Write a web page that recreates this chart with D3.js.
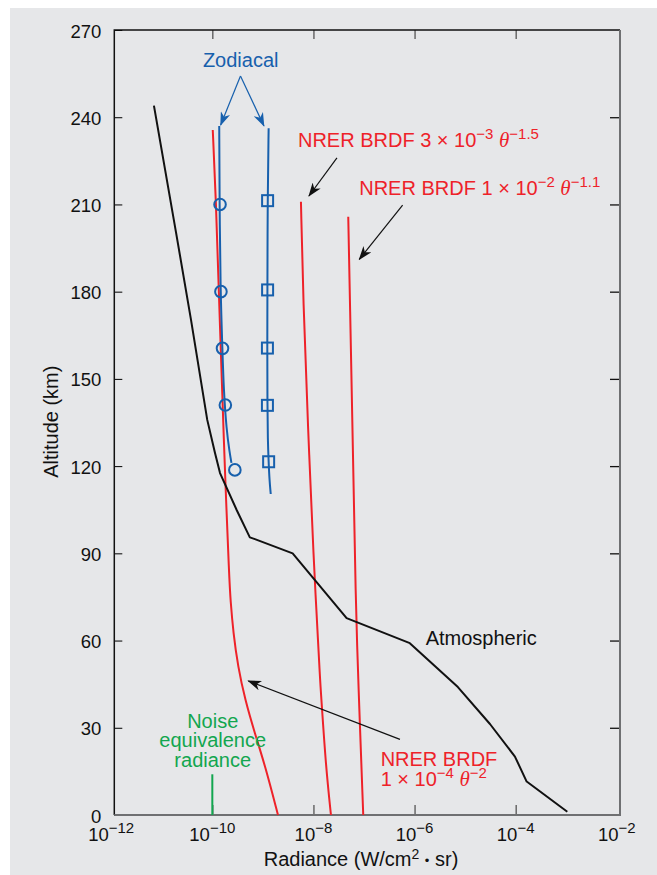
<!DOCTYPE html>
<html>
<head>
<meta charset="utf-8">
<script src="https://cdn.jsdelivr.net/npm/d3@7"></script>
<style>
  body { margin: 0; background: #fff; }
  svg { display: block; font-family: "Liberation Sans", Arial, sans-serif; }
</style>
</head>
<body>
<script>
'use strict';

// ---- data: [altitude km, radiance W/cm2 sr] ----
const yTicks = [0, 30, 60, 90, 120, 150, 180, 210, 240, 270];
const xTickExp = [-12, -10, -8, -6, -4, -2];
const xTickLabels = ['\u221212', '\u221210', '\u22128', '\u22126', '\u22124', '\u22122'];

const atmospheric = [[244.0, 7.0e-12], [200.5, 1.91e-11], [170.3, 3.79e-11], [135.9, 7.94e-11],
  [124.5, 1.13e-10], [117.6, 1.42e-10], [104.9, 3.03e-10], [95.5, 5.52e-10], [94.9, 6.96e-10],
  [90.0, 3.88e-9], [80.8, 1.07e-8], [67.7, 4.53e-8], [59.1, 8.06e-7], [44.0, 7.19e-6],
  [31.3, 3.10e-5], [20.1, 9.67e-5], [11.5, 1.65e-4], [1.1, 1.05e-3]];

const brdf1e4 = [[235.6, 1.02e-10], [211.5, 1.18e-10], [180.6, 1.34e-10], [142.7, 1.59e-10],
  [117.6, 1.78e-10], [80.8, 2.17e-10], [73.9, 2.29e-10], [62.6, 2.60e-10], [51.0, 3.22e-10],
  [39.6, 4.45e-10], [28.2, 6.9e-10], [16.9, 1.11e-9], [0, 1.99e-9]];

const brdf3e3 = [[210.9, 5.66e-9], [177.1, 6.28e-9], [135.9, 7.68e-9], [83.2, 1.04e-8],
  [73.9, 1.12e-8], [46.4, 1.35e-8], [39.6, 1.44e-8], [16.9, 1.76e-8], [0, 2.22e-8]];

const brdf1e2 = [[205.8, 4.88e-8], [177.1, 5.27e-8], [125.5, 6.04e-8], [73.9, 6.84e-8],
  [46.4, 7.69e-8], [0, 9.66e-8]];

const zodCircleLine = [[237.0, 1.37e-10], [210.1, 1.39e-10], [180.2, 1.45e-10], [160.6, 1.58e-10],
  [146.2, 1.68e-10], [132.4, 1.91e-10], [124.9, 2.19e-10], [121.1, 2.39e-10]];
const zodCircles = [[210, 1.42e-10], [180, 1.48e-10], [160.5, 1.59e-10], [141, 1.81e-10], [118.7, 2.79e-10]];

const zodSquareLine = [[236.2, 1.30e-9], [211.5, 1.24e-9], [180.6, 1.23e-9], [160.6, 1.22e-9],
  [141.0, 1.23e-9], [129.0, 1.25e-9], [121.4, 1.30e-9], [115.2, 1.35e-9], [110.4, 1.43e-9]];
const zodSquares = [[211.3, 1.24e-9], [180.6, 1.24e-9], [160.6, 1.23e-9], [140.9, 1.23e-9], [121.5, 1.30e-9]];

const noiseLine = [[0, 1e-10], [14, 1e-10]];

const RED = '#ee2229', BLUE = '#1760ad', GREEN = '#12a64f', INK = '#111', FRAME = '#6f7072';

// annotation anchors: [log10 radiance, altitude]
const arrows = [
  { from: [-9.443, 254.2], to: [-9.835, 237.3], color: BLUE },
  { from: [-9.443, 254.2], to: [-8.979, 237.0], color: BLUE },
  { from: [-7.535, 226.0], to: [-8.089, 212.9], color: INK },
  { from: [-6.236, 209.8], to: [-7.094, 191.1], color: INK },
  { from: [-6.289, 26.0], to: [-9.289, 46.1], color: INK }
];

const svg = d3.select('body').append('svg')
  .attr('width', 657)
  .attr('height', 875);

svg.append('rect')
  .attr('x', 10).attr('y', 8)
  .attr('width', 647).attr('height', 867)
  .attr('fill', '#e6e7e9');

const x = d3.scaleLog().domain([1e-12, 1e-2]).range([111.2, 616.8]);
const y = d3.scaleLinear().domain([0, 270]).range([815, 30]);
const px = e => x(Math.pow(10, e));

// ---- axes ----
let axLeft = svg.append('g')
  .attr('transform', 'translate(114.3,0)')
  .call(d3.axisLeft(y).tickValues(yTicks).tickSizeInner(-8).tickSizeOuter(0).tickPadding(13));
axLeft.attr('font-family', null);
axLeft.selectAll('text').attr('font-size', 18.5).attr('dy', '0.38em').attr('fill', INK);
axLeft.select('.domain').remove();

let axRight = svg.append('g')
  .attr('transform', 'translate(620,0)')
  .call(d3.axisRight(y).tickValues(yTicks.slice(1, -1)).tickSizeInner(-10).tickSizeOuter(0).tickFormat(() => ''));
axRight.select('.domain').remove();
axRight.selectAll('.tick line').attr('stroke', INK).attr('stroke-width', 1.3);

let xVals = xTickExp.map(e => Math.pow(10, e));

let axTop = svg.append('g')
  .attr('transform', 'translate(0,30)')
  .call(d3.axisTop(x).tickValues(xVals.slice(1, -1)).tickSizeInner(-9).tickSizeOuter(0).tickFormat(() => ''));
axTop.select('.domain').remove();
axTop.selectAll('.tick line').attr('stroke', '#555').attr('stroke-width', 1.3);

let axBottom = svg.append('g')
  .attr('transform', 'translate(0,815)')
  .call(d3.axisBottom(x).tickValues(xVals.slice(1, -1)).tickSizeInner(-10).tickSizeOuter(0).tickFormat(() => ''));
axBottom.select('.domain').remove();
axBottom.selectAll('.tick line').attr('stroke', '#555').attr('stroke-width', 1.3);

// plot frame: left and top black, right and bottom grey
svg.append('path').attr('d', 'M114.3,815V30H620').attr('fill', 'none').attr('stroke', INK).attr('stroke-width', 1.5);
svg.append('path').attr('d', 'M620,30V815H114.3').attr('fill', 'none').attr('stroke', FRAME).attr('stroke-width', 2);

xTickExp.forEach((e, i) => {
  let t = svg.append('text')
    .attr('x', px(e))
    .attr('y', 841)
    .attr('text-anchor', 'middle')
    .attr('font-size', 18.5)
    .attr('fill', INK);
  t.append('tspan').text('10');
  t.append('tspan').attr('dy', -8).attr('font-size', 15).text(xTickLabels[i]);
});

// axis titles
let xt = svg.append('text')
  .attr('x', 361).attr('y', 866)
  .attr('text-anchor', 'middle')
  .attr('font-size', 20)
  .attr('fill', INK);
xt.append('tspan').text('Radiance (W/cm');
xt.append('tspan').attr('dy', -7).attr('font-size', 14).text('2');
xt.append('tspan').attr('dy', 7).text(' ');
xt.append('tspan').attr('font-size', 13).attr('dy', -1).text('\u2022');
xt.append('tspan').attr('dy', 1).text(' sr)');

svg.append('text')
  .attr('transform', 'translate(57.5,421.7)rotate(-90)')
  .attr('text-anchor', 'middle')
  .attr('font-size', 20)
  .attr('fill', INK)
  .text('Altitude (km)');

// ---- curves ----
let line = d3.line().x(d => x(d[1])).y(d => y(d[0]));
let smooth = d3.line().x(d => x(d[1])).y(d => y(d[0])).curve(d3.curveBasis);

function drawPath(data, gen, color, width) {
  svg.append('path')
    .datum(data)
    .attr('d', gen)
    .attr('fill', 'none')
    .attr('stroke', color)
    .attr('stroke-width', width)
    .attr('stroke-linejoin', 'round');
}

drawPath(brdf1e4, smooth, RED, 2);
drawPath(brdf3e3, smooth, RED, 2);
drawPath(brdf1e2, smooth, RED, 2);
drawPath(atmospheric, line, INK, 2);
drawPath(zodCircleLine, smooth, BLUE, 2);
drawPath(zodSquareLine, smooth, BLUE, 2);
drawPath(noiseLine, line, GREEN, 2);

svg.selectAll('.circ')
  .data(zodCircles)
  .enter()
  .append('circle')
    .attr('cx', d => x(d[1]))
    .attr('cy', d => y(d[0]))
    .attr('r', 5.8)
    .attr('fill', 'none')
    .attr('stroke', BLUE)
    .attr('stroke-width', 2);

svg.selectAll('.sq')
  .data(zodSquares)
  .enter()
  .append('rect')
    .attr('x', d => x(d[1]) - 5.5)
    .attr('y', d => y(d[0]) - 5.5)
    .attr('width', 11)
    .attr('height', 11)
    .attr('fill', 'none')
    .attr('stroke', BLUE)
    .attr('stroke-width', 2);

// ---- arrows ----
let defs = svg.append('defs');
[['ah-ink', INK], ['ah-blue', BLUE]].forEach(m => {
  defs.append('marker')
    .attr('id', m[0])
    .attr('viewBox', '0 0 14 10')
    .attr('refX', 13).attr('refY', 5)
    .attr('markerWidth', 14).attr('markerHeight', 10)
    .attr('markerUnits', 'userSpaceOnUse')
    .attr('orient', 'auto')
    .append('path')
      .attr('d', 'M0,0 L14,5 L0,10 L4,5 Z')
      .attr('fill', m[1]);
});

arrows.forEach(a => {
  svg.append('line')
    .attr('x1', px(a.from[0])).attr('y1', y(a.from[1]))
    .attr('x2', px(a.to[0])).attr('y2', y(a.to[1]))
    .attr('stroke', a.color)
    .attr('stroke-width', 1.2)
    .attr('marker-end', a.color === BLUE ? 'url(#ah-blue)' : 'url(#ah-ink)');
});

// ---- labels ----
// lines: array of lines, each line an array of parts; one <text> per label
function richText(pos, lines, color, anchor, lineGap) {
  let x0 = px(pos[0]);
  let t = svg.append('text')
    .attr('x', x0)
    .attr('y', y(pos[1]))
    .attr('text-anchor', anchor || 'start')
    .attr('font-size', 20)
    .attr('fill', color);
  let shift = 0;
  lines.forEach((parts, li) => {
    parts.forEach((p, pi) => {
      let s = t.append('tspan').text(p.t);
      let want = p.sup ? -8 : 0;
      let dy = want - shift;
      if (li > 0 && pi === 0) {
        s.attr('x', x0);
        dy += lineGap;
      }
      if (dy !== 0) s.attr('dy', dy);
      shift = want;
      if (p.sup) s.attr('font-size', 15);
      if (p.it) s.attr('font-family', '"Liberation Serif", "DejaVu Serif", serif').attr('font-style', 'italic').attr('font-size', 21);
    });
  });
  return t;
}

richText([-9.439, 257.4], [[{ t: 'Zodiacal' }]], BLUE, 'middle');

richText([-8.306, 229.9], [[{ t: 'NRER BRDF 3 \u00d7 10' }, { t: '\u22123', sup: true }, { t: ' ' },
  { t: '\u03b8', it: true }, { t: '\u22121.5', sup: true }]], RED);

richText([-7.094, 213.2], [[{ t: 'NRER BRDF 1 \u00d7 10' }, { t: '\u22122', sup: true }, { t: ' ' },
  { t: '\u03b8', it: true }, { t: '\u22121.1', sup: true }]], RED);

richText([-5.781, 58.5], [[{ t: 'Atmospheric' }]], INK);

richText([-6.671, 17.0], [[{ t: 'NRER BRDF' }],
  [{ t: '1 \u00d7 10' }, { t: '\u22124', sup: true }, { t: ' ' },
   { t: '\u03b8', it: true }, { t: '\u22122', sup: true }]], RED, 'start', 20.3);

richText([-9.992, 29.9], [[{ t: 'Noise' }], [{ t: 'equivalence' }], [{ t: 'radiance' }]],
  GREEN, 'middle', 19.4);
</script>
</body>
</html>
